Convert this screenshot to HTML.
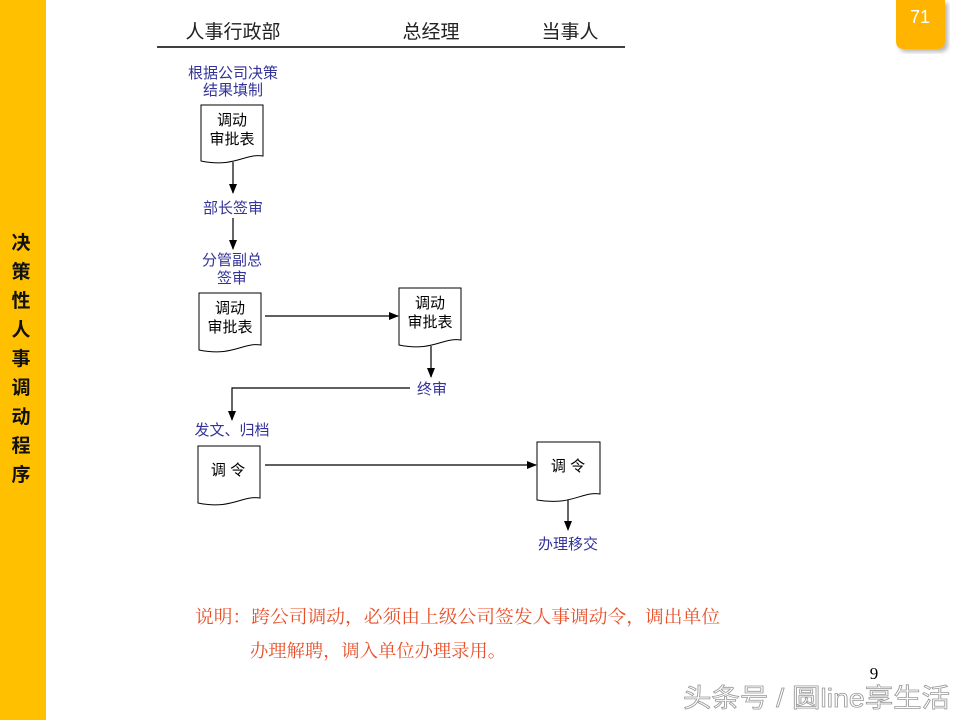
<!DOCTYPE html>
<html><head><meta charset="utf-8"><style>
body{margin:0;background:#fff;}
svg{display:block;}
.b{font-family:"Liberation Sans","Noto Sans CJK SC",sans-serif;fill:#333399;font-size:15px;}
.k{font-family:"Liberation Sans","Noto Sans CJK SC",sans-serif;fill:#000;font-size:15px;}
</style></head><body>
<svg width="960" height="720" viewBox="0 0 960 720" xmlns="http://www.w3.org/2000/svg">
<defs>
<marker id="a" markerWidth="10" markerHeight="10" refX="9" refY="5" orient="auto" markerUnits="userSpaceOnUse"><path d="M0,1 L10,5 L0,9 z" fill="#000"/></marker>
<filter id="sh"><feDropShadow dx="3" dy="3" stdDeviation="2" flood-color="#888" flood-opacity="0.6"/></filter>
</defs>
<rect x="0" y="0" width="46" height="720" fill="#FFC000"/>
<text font-family="Liberation Sans,Noto Sans CJK SC,sans-serif" font-weight="bold" font-size="19" fill="#111" text-anchor="middle">
<tspan x="21" y="249">决</tspan><tspan x="21" y="278">策</tspan><tspan x="21" y="307">性</tspan><tspan x="21" y="336">人</tspan><tspan x="21" y="365">事</tspan><tspan x="21" y="394">调</tspan><tspan x="21" y="423">动</tspan><tspan x="21" y="452">程</tspan><tspan x="21" y="481">序</tspan></text>
<path d="M896,0 H945 V41 Q945,49 937,49 H904 Q896,49 896,41 Z" fill="#FFB400" filter="url(#sh)"/>
<text x="920" y="23" font-family="Liberation Sans,sans-serif" font-size="18" fill="#fff" text-anchor="middle">71</text>

<g font-family="Liberation Sans,Noto Sans CJK SC,sans-serif" font-size="19" fill="#222" text-anchor="middle">
<text x="233" y="38">人事行政部</text><text x="431" y="38">总经理</text><text x="570" y="38">当事人</text></g>
<line x1="157" y1="47" x2="625" y2="47" stroke="#000" stroke-width="1.5"/>

<g text-anchor="middle">
<text class="b" x="233" y="78">根据公司决策</text>
<text class="b" x="233" y="95">结果填制</text>
<text class="b" x="233" y="213">部长签审</text>
<text class="b" x="232" y="265">分管副总</text>
<text class="b" x="232" y="283">签审</text>
<text class="b" x="432" y="394">终审</text>
<text class="b" x="232" y="435">发文、归档</text>
<text class="b" x="568" y="549">办理移交</text>
</g>

<g fill="#fff" stroke="#000" stroke-width="1">
<path d="M201,105 H263 V156 C245,153 235,168 201,161 Z"/>
<path d="M199,293 H261 V345 C243,342 233,357 199,350 Z"/>
<path d="M399,288 H461 V340 C443,337 433,352 399,345 Z"/>
<path d="M198,446 H260 V498 C242,495 232,510 198,503 Z"/>
<path d="M537,442 H600 V494 C582,491 572,506 537,500 Z"/>
</g>
<g text-anchor="middle">
<text class="k" x="232" y="125">调动</text><text class="k" x="232" y="144">审批表</text>
<text class="k" x="230" y="313">调动</text><text class="k" x="230" y="332">审批表</text>
<text class="k" x="430" y="308">调动</text><text class="k" x="430" y="327">审批表</text>
<text class="k" x="228" y="475">调 令</text>
<text class="k" x="568" y="471">调 令</text>
</g>

<g stroke="#000" stroke-width="1.2" fill="none">
<line x1="233" y1="162" x2="233" y2="193" marker-end="url(#a)"/>
<line x1="233" y1="218" x2="233" y2="249" marker-end="url(#a)"/>
<line x1="265" y1="316" x2="398" y2="316" marker-end="url(#a)"/>
<line x1="431" y1="346" x2="431" y2="377" marker-end="url(#a)"/>
<polyline points="410,388 232,388 232,420" marker-end="url(#a)"/>
<line x1="265" y1="465" x2="536" y2="465" marker-end="url(#a)"/>
<line x1="568" y1="500" x2="568" y2="530" marker-end="url(#a)"/>
</g>

<g font-family="Liberation Serif,Noto Serif CJK SC,serif" font-size="18" fill="#E8502A">
<text x="195" y="623" textLength="525" lengthAdjust="spacingAndGlyphs">说明：跨公司调动，必须由上级公司签发人事调动令，调出单位</text>
<text x="250" y="657" textLength="256" lengthAdjust="spacingAndGlyphs">办理解聘，调入单位办理录用。</text>
</g>
<text x="874" y="679" font-family="Liberation Serif,serif" font-size="17" fill="#000" text-anchor="middle">9</text>
<text x="683" y="707" font-family="Liberation Sans,Noto Sans CJK SC,sans-serif" font-size="26" fill="#fff" stroke="#999" stroke-width="0.8" textLength="267" lengthAdjust="spacingAndGlyphs">头条号 / 圆line享生活</text>
</svg>
</body></html>
